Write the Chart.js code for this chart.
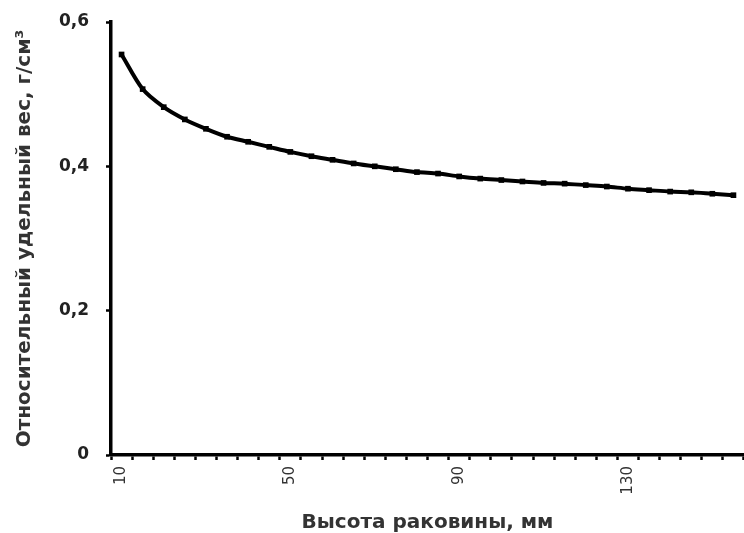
<!DOCTYPE html>
<html>
<head>
<meta charset="utf-8">
<script src="https://cdn.jsdelivr.net/npm/chart.js@4.4.1/dist/chart.umd.min.js"></script>
<style>
  html, body { margin: 0; padding: 0; background: #fff; overflow: hidden; }
  /* plot runs slightly past the right edge, as in the original */
  #wrap { width: 748px; height: 533px; position: relative; }
</style>
</head>
<body>
<div id="wrap"><canvas id="shellChart"></canvas></div>
<script>
// shell height, mm (every 5 mm)
const heights = [10, 15, 20, 25, 30, 35, 40, 45, 50, 55, 60, 65, 70, 75, 80,
                 85, 90, 95, 100, 105, 110, 115, 120, 125, 130, 135, 140, 145, 150, 155];
// relative specific weight, g/cm3
const density = [0.555, 0.507, 0.482, 0.465, 0.452, 0.441, 0.434, 0.427, 0.420, 0.414,
                 0.409, 0.404, 0.400, 0.396, 0.392, 0.390, 0.386, 0.383, 0.381, 0.379,
                 0.377, 0.376, 0.374, 0.372, 0.369, 0.367, 0.365, 0.364, 0.362, 0.360];
const shownX = ['10', '50', '90', '130'];
const yTicks = [0, 0.2, 0.4, 0.6];

const ctx = document.getElementById('shellChart').getContext('2d');
const chart = new Chart(ctx, {
    type: 'line',
    data: {
        labels: heights.map(String),
        datasets: [{
            data: density,
            borderColor: '#000',
            backgroundColor: '#000',
            borderWidth: 4,
            tension: 0.3,
            pointStyle: 'rect',
            pointRadius: 4,
            pointBorderWidth: 0,
            pointBackgroundColor: '#000'
        }]
    },
    options: {
        responsive: true,
        maintainAspectRatio: false,
        animation: false,
        layout: { padding: { top: 22, left: 0, right: 0, bottom: 0 } },
        plugins: {
            legend: { display: false },
            tooltip: { enabled: false }
        },
        scales: {
            x: {
                type: 'category',
                offset: true,
                afterFit: s => {
                    s.height = 78;
                    s.paddingLeft = 0;
                    s.paddingRight = 0;
                },
                border: { display: true, color: '#000', width: 3.5 },
                grid: {
                    display: true,
                    offset: true,
                    drawOnChartArea: false,
                    drawTicks: true,
                    tickLength: 5,
                    tickWidth: 2.5,
                    tickColor: '#000'
                },
                ticks: {
                    autoSkip: false,
                    maxRotation: 90,
                    minRotation: 90,
                    padding: 6,
                    color: '#333',
                    font: { family: 'DejaVu Sans', size: 15 },
                    callback: function (v, i) {
                        const lab = this.getLabelForValue(v);
                        return shownX.includes(lab) ? lab : '';
                    }
                },
                title: {
                    display: true,
                    text: 'Высота раковины, мм',
                    color: '#333',
                    padding: { top: 0, bottom: -2 },
                    font: { family: 'DejaVu Sans', size: 20, weight: 'bold' }
                }
            },
            y: {
                min: 0,
                max: 0.6,
                afterFit: s => {
                    s.width = 111;
                    s.paddingTop = 0;
                    s.paddingBottom = 0;
                },
                afterBuildTicks: s => { s.ticks = yTicks.map(v => ({ value: v })); },
                border: { display: true, color: '#000', width: 3.5 },
                grid: {
                    display: true,
                    drawOnChartArea: false,
                    drawTicks: true,
                    tickLength: 5,
                    tickWidth: 2.5,
                    tickColor: '#000'
                },
                ticks: {
                    padding: 17,
                    color: '#222',
                    font: { family: 'DejaVu Sans', size: 17, weight: 'bold' },
                    callback: v => v === 0 ? '0' : v.toFixed(1).replace('.', ',')
                },
                title: {
                    display: true,
                    text: 'Относительный удельный вес, г/см³',
                    color: '#333',
                    padding: { top: 13, bottom: 0 },
                    font: { family: 'DejaVu Sans', size: 20, weight: 'bold' }
                }
            }
        }
    }
});
</script>
</body>
</html>
